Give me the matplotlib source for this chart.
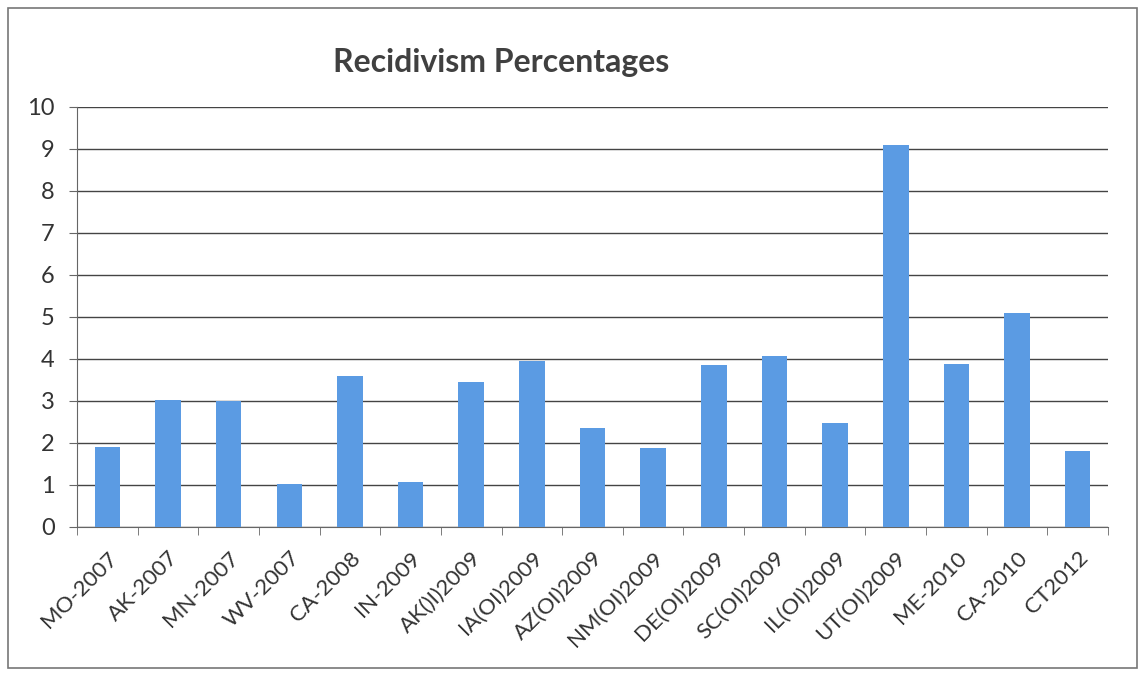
import matplotlib.pyplot as plt
from matplotlib.patches import Rectangle

# categories and values
labels = ['MO-2007', 'AK-2007', 'MN-2007', 'WV-2007', 'CA-2008', 'IN-2009',
          'AK()I)2009', 'IA(OI)2009', 'AZ(OI)2009', 'NM(OI)2009', 'DE(OI)2009',
          'SC(OI)2009', 'IL(OI)2009', 'UT(OI)2009', 'ME-2010', 'CA-2010', 'CT2012']
values = [1.9, 3.02, 3.0, 1.02, 3.6, 1.07, 3.45, 3.95, 2.36, 1.88, 3.86,
          4.07, 2.48, 9.1, 3.88, 5.1, 1.81]
yticks = list(range(0, 11))

plt.rcParams['font.family'] = ['Lato', 'DejaVu Sans']

fig = plt.figure(figsize=(11.4, 6.75), dpi=100)
ax = fig.add_axes([0.0675, 0.2193, 0.9045, 0.6222])

x = list(range(len(labels)))
ax.bar(x, values, width=0.42, color='#5b9be3', zorder=3)

ax.set_xlim(-0.5, len(labels) - 0.5)
ax.set_ylim(0, 10)
ax.set_yticks(yticks)
ax.set_yticklabels([str(v) for v in yticks], fontsize=17, color='#333333')
ax.grid(axis='y', color='#444444', linewidth=1.0, zorder=0)

# category labels at centers, tick marks at boundaries
ax.set_xticks(x)
ax.set_xticklabels(labels, rotation=45, ha='right', rotation_mode='anchor',
                   fontsize=16, color='#333333')
ax.tick_params(axis='x', length=0, pad=15)
ax.set_xticks([i - 0.5 for i in range(len(labels) + 1)], minor=True)
ax.tick_params(axis='x', which='minor', length=6, color='#666666', direction='out')
ax.tick_params(axis='y', length=6, color='#666666', pad=10)

for side in ['top', 'right']:
    ax.spines[side].set_visible(False)
ax.spines['left'].set_color('#666666')
ax.spines['bottom'].set_color('#666666')

fig.text(0.44, 0.907, 'Recidivism Percentages', fontsize=23, fontweight='bold',
         color='#404040', ha='center', va='center')

# outer chart border
fig.patches.append(Rectangle((0.007, 0.01), 0.99, 0.978, transform=fig.transFigure,
                             fill=False, edgecolor='#777777', linewidth=1.2))

plt.savefig('out.png')
